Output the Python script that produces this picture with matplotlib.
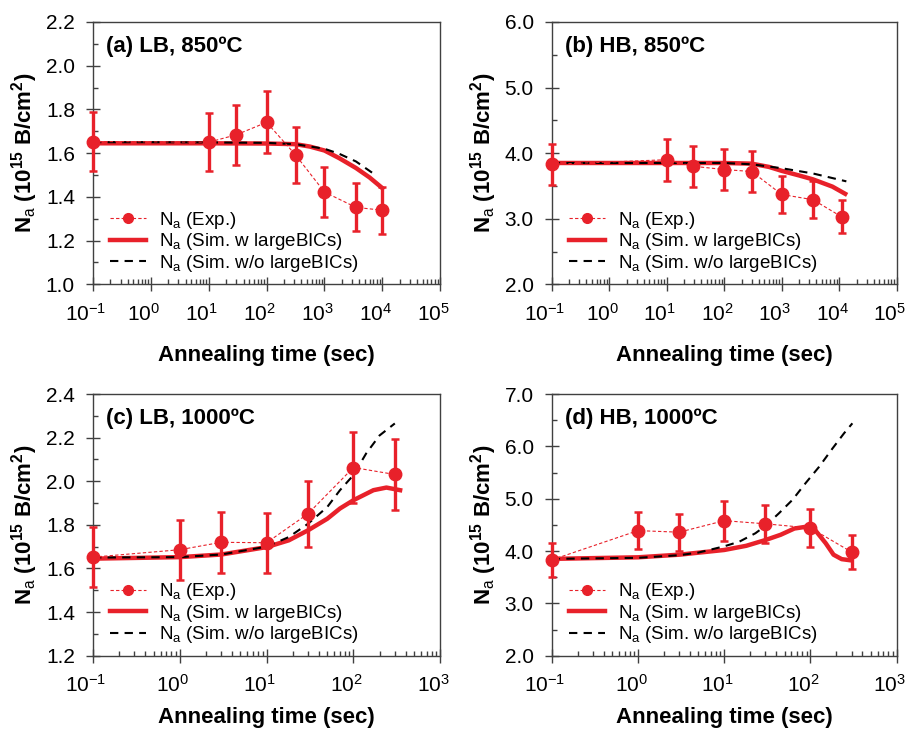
import numpy as np
import matplotlib
matplotlib.use('Agg')
import matplotlib.pyplot as plt
from matplotlib.lines import Line2D
from matplotlib.ticker import LogLocator, MultipleLocator, FormatStrFormatter, NullFormatter

plt.rcParams['font.family'] = ['Liberation Sans', 'DejaVu Sans']
plt.rcParams['mathtext.fontset'] = 'custom'
plt.rcParams['mathtext.rm'] = 'Liberation Sans'
plt.rcParams['mathtext.it'] = 'Liberation Sans:italic'
plt.rcParams['mathtext.bf'] = 'Liberation Sans:bold'
plt.rcParams['axes.unicode_minus'] = False

RED = '#e8212a'
AXC = '#404040'

# ---- experimental data (time in sec, Na in 1e15 B/cm2) ----
a_t = [0.1, 10, 30, 100, 316, 1000, 3500, 10000]
a_y = [1.653, 1.650, 1.684, 1.741, 1.592, 1.422, 1.352, 1.339]
a_err = [0.133, 0.133, 0.136, 0.142, 0.127, 0.115, 0.110, 0.107]

b_t = [0.1, 10, 29, 100, 300, 1000, 3500, 11000]
b_y = [3.83, 3.90, 3.80, 3.75, 3.72, 3.37, 3.29, 3.03]
b_err = [0.31, 0.32, 0.31, 0.31, 0.31, 0.28, 0.28, 0.25]

c_t = [0.1, 1, 3, 10, 30, 100, 300]
c_y = [1.652, 1.686, 1.720, 1.718, 1.851, 2.063, 2.031]
c_err = [0.137, 0.138, 0.140, 0.138, 0.151, 0.161, 0.163]

d_t = [0.1, 1, 3, 10, 30, 100, 300]
d_y = [3.83, 4.39, 4.36, 4.58, 4.52, 4.44, 3.98]
d_err = [0.32, 0.36, 0.35, 0.38, 0.36, 0.37, 0.33]

# ---- simulation with large BICs ----
a_sim_t = [0.1, 1, 10, 100, 316, 560, 1000, 1800, 3500, 6000, 10000]
a_sim_y = [1.645, 1.645, 1.645, 1.644, 1.641, 1.630, 1.612, 1.577, 1.532, 1.489, 1.440]
b_sim_t = [0.1, 1, 10, 100, 300, 600, 1000, 2000, 3500, 7600, 12700]
b_sim_y = [3.85, 3.85, 3.85, 3.85, 3.84, 3.79, 3.73, 3.66, 3.60, 3.49, 3.38]
c_sim_t = [0.1, 1, 3, 10, 18, 30, 50, 70, 100, 170, 240, 345]
c_sim_y = [1.645, 1.652, 1.664, 1.698, 1.729, 1.775, 1.828, 1.875, 1.913, 1.959, 1.971, 1.959]
d_sim_t = [0.1, 1, 3, 10, 18, 30, 45, 65, 86, 112, 150, 185, 230, 300]
d_sim_y = [3.85, 3.88, 3.93, 4.02, 4.10, 4.21, 4.31, 4.43, 4.46, 4.41, 4.15, 3.93, 3.845, 3.82]

# ---- simulation without large BICs ----
a_nob_t = [0.1, 1, 10, 100, 316, 1000, 1800, 3500, 7800]
a_nob_y = [1.650, 1.650, 1.649, 1.647, 1.641, 1.620, 1.597, 1.562, 1.498]
b_nob_t = [0.1, 1, 10, 100, 300, 1000, 3500, 13300]
b_nob_y = [3.85, 3.85, 3.85, 3.85, 3.83, 3.77, 3.69, 3.57]
c_nob_t = [0.1, 1, 3, 10, 18, 30, 50, 70, 100, 140, 200, 300]
c_nob_y = [1.650, 1.652, 1.664, 1.700, 1.744, 1.805, 1.882, 1.959, 2.028, 2.127, 2.210, 2.265]
d_nob_t = [0.1, 1, 3, 5, 10, 15, 23, 30, 43, 62, 88, 126, 180, 245, 306]
d_nob_y = [3.85, 3.87, 3.92, 3.97, 4.09, 4.18, 4.34, 4.48, 4.72, 4.98, 5.30, 5.61, 5.96, 6.25, 6.44]

titles = ['(a) LB, 850ºC', '(b) HB, 850ºC', '(c) LB, 1000ºC', '(d) HB, 1000ºC']
decades = [range(-1, 6), range(-1, 6), range(-1, 4), range(-1, 4)]
ylims = [(1.0, 2.2), (2.0, 6.0), (1.2, 2.4), (2.0, 7.0)]
ymajor = [0.2, 1.0, 0.2, 1.0]
xlabpad = [31, 31, 24, 24]

exp_sets = [(a_t, a_y, a_err), (b_t, b_y, b_err), (c_t, c_y, c_err), (d_t, d_y, d_err)]
sim_sets = [(a_sim_t, a_sim_y), (b_sim_t, b_sim_y), (c_sim_t, c_sim_y), (d_sim_t, d_sim_y)]
nob_sets = [(a_nob_t, a_nob_y), (b_nob_t, b_nob_y), (c_nob_t, c_nob_y), (d_nob_t, d_nob_y)]

fig = plt.figure(figsize=(9.09, 7.31), dpi=100)
boxes = [[0.1023, 0.611, 0.382, 0.359], [0.607, 0.611, 0.3795, 0.359],
         [0.1023, 0.103, 0.382, 0.358], [0.607, 0.103, 0.3795, 0.358]]

for i in range(4):
    ax = fig.add_axes(boxes[i])
    t, y, e = exp_sets[i]
    ax.plot(nob_sets[i][0], nob_sets[i][1], color='black', lw=1.5, ls=(0, (4, 3)), zorder=3)
    ax.plot(sim_sets[i][0], sim_sets[i][1], color=RED, lw=3.2, zorder=2)
    ax.errorbar(t, y, yerr=e, color=RED, lw=0.8, ls=(0, (3, 2)), marker='o', ms=9,
                elinewidth=2.4, capsize=3, capthick=1.8, zorder=4, clip_on=False)

    ax.set_xscale('log')
    ax.set_xlim(10.0 ** decades[i][0], 10.0 ** decades[i][-1])
    ax.set_ylim(*ylims[i])
    ax.xaxis.set_major_locator(LogLocator(base=10, numticks=10))
    ax.xaxis.set_minor_locator(LogLocator(base=10, subs=np.arange(2, 10), numticks=20))
    ax.xaxis.set_major_formatter(NullFormatter())
    ax.xaxis.set_minor_formatter(NullFormatter())
    ax.yaxis.set_major_locator(MultipleLocator(ymajor[i]))
    ax.yaxis.set_minor_locator(MultipleLocator(ymajor[i] / 2))
    ax.yaxis.set_major_formatter(FormatStrFormatter('%.1f'))
    ax.tick_params(which='major', direction='inout', length=10, width=1, color=AXC,
                   labelsize=15, pad=8)
    ax.tick_params(which='minor', direction='in', length=3.5, width=1, color=AXC)
    for s in ax.spines.values():
        s.set_color(AXC)
        s.set_linewidth(1)

    # decade labels, sitting a little left of their ticks as in the original
    for d in decades[i]:
        ax.annotate(r'$\mathdefault{10^{%d}}$' % d, xy=(10.0 ** d, 0),
                    xycoords=('data', 'axes fraction'), xytext=(-5, -13),
                    textcoords='offset points', ha='center', va='top', fontsize=15,
                    annotation_clip=False)

    ax.set_xlabel('Annealing time (sec)', fontsize=16, fontweight='bold', labelpad=xlabpad[i])
    ax.set_ylabel(r'$\mathbf{N_{\mathrm{a}}\ (10^{15}\ B/cm^{2})}$', fontsize=16, labelpad=4)
    ax.text(0.037, 0.945, titles[i], transform=ax.transAxes, fontsize=16,
            fontweight='bold', va='top', ha='left')

    handles = [Line2D([], [], color=RED, lw=0.8, ls=(0, (3, 2)), marker='o', ms=7),
               Line2D([], [], color=RED, lw=3.2),
               Line2D([], [], color='black', lw=1.5, ls=(0, (4, 3)))]
    labels = [r'N$_\mathrm{a}$ (Exp.)', r'N$_\mathrm{a}$ (Sim. w largeBICs)',
              r'N$_\mathrm{a}$ (Sim. w/o largeBICs)']
    ax.legend(handles, labels, loc='lower left', frameon=False, fontsize=13.5,
              handlelength=1.9, handletextpad=0.7, labelspacing=0.03,
              borderaxespad=0.3, bbox_to_anchor=(0.012, -0.01))

fig.savefig('out.png', dpi=100)
